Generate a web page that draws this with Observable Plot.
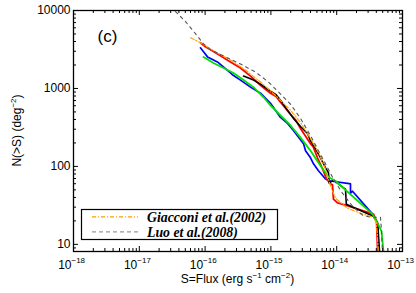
<!DOCTYPE html>
<html><head><meta charset="utf-8">
<script src="https://cdn.jsdelivr.net/npm/d3@7"></script>
<script src="https://cdn.jsdelivr.net/npm/@observablehq/plot@0.6"></script>
<style>
html,body{margin:0;padding:0;background:#fff;}
#wrap{position:relative;width:416px;height:293px;}
</style></head><body><div id="wrap"></div>
<script>
// ---- data ----
const luoFlux = [3.55e-17, 5.04e-17, 7.14e-17, 9.46e-17, 1.21e-16, 2.04e-16, 3.45e-16, 5.83e-16, 9.2e-16, 1.31e-15, 1.99e-15, 2.82e-15, 4.0e-15, 5.28e-15, 6.76e-15, 8.93e-15, 1.22e-14, 1.74e-14, 2.47e-14, 3.27e-14, 4.63e-14, 4.8e-14, 4.97e-14];
const luoN    = [9700, 7210, 5040, 3740, 3130, 2540, 2060, 1625, 1208, 896, 627, 413, 249, 159, 108, 69, 45.5, 30.9, 23.7, 22.3, 22.3, 14.7, 7.6];

const giaFlux = [6.0e-17, 8.5e-17, 1.44e-16, 2.43e-16, 4.11e-16, 6.95e-16, 1.17e-15, 1.99e-15, 2.82e-15, 4.0e-15, 5.28e-15, 6.76e-15, 8.05e-15, 9.6e-15, 1.46e-14, 2.3e-14, 3.62e-14, 4.03e-14, 4.32e-14];
const giaN    = [4480, 3850, 2950, 2320, 1725, 1208, 818, 524, 366, 228, 150, 93, 56, 39, 29, 25, 22.3, 18.6, 7.6];

const redFlux = [8.5e-17, 1.01e-16, 1.21e-16, 1.71e-16, 2.2e-16, 2.43e-16, 3.45e-16, 4.9e-16, 6.95e-16, 9.86e-16, 1.2e-15, 1.40e-15, 1.99e-15, 2.4e-15, 2.82e-15, 4.0e-15, 4.4e-15, 5.1e-15, 6.1e-15, 7.0e-15, 8.05e-15, 8.63e-15, 8.93e-15, 1.03e-14, 1.36e-14, 3.62e-14, 4.03e-14, 4.2e-14];
const redN    = [3850, 3420, 3130, 2620, 2300, 2190, 1830, 1440, 1100, 869, 790, 665, 466, 390, 306, 196, 178, 129, 93, 69, 60, 58, 38, 34, 31.8, 24.4, 19.8, 7.6];

const blackFlux = [3.84e-16, 5.44e-16, 6.95e-16, 9.86e-16, 1.2e-15, 1.40e-15, 1.79e-15, 2.2e-15, 2.82e-15, 3.6e-15, 4.0e-15, 4.76e-15, 5.68e-15, 6.76e-15, 7.5e-15, 7.7e-15, 8.93e-15, 1.27e-14, 1.36e-14, 1.4e-14, 3.62e-14, 4.2e-14, 4.5e-14];
const blackN    = [1440, 1280, 1137, 923, 830, 707, 524, 413, 325, 264, 214, 169, 129, 96, 83, 61, 67, 53, 51, 32.8, 22.9, 18.6, 7.6];

const blueFlux = [8.5e-17, 9.46e-17, 1.09e-16, 1.54e-16, 2.43e-16, 2.6e-16, 3.45e-16, 4.9e-16, 6.95e-16, 9.86e-16, 1.40e-15, 1.79e-15, 2.2e-15, 3.13e-15, 3.36e-15, 4.0e-15, 4.44e-15, 5.28e-15, 6.76e-15, 8.05e-15, 1.55e-14, 1.62e-14, 1.62e-14, 1.74e-14, 3.62e-14, 4.2e-14, 4.32e-14];
const blueN    = [3320, 2950, 2540, 2190, 1580, 1500, 1280, 1040, 869, 646, 425, 356, 289, 196, 159, 129, 108, 88, 69, 65, 60, 59.6, 45.5, 48, 23.7, 18.6, 7.6];

const greenFlux = [9.46e-17, 1.34e-16, 1.91e-16, 2.7e-16, 3.84e-16, 5.44e-16, 7.73e-16, 9.86e-16, 1.40e-15, 1.99e-15, 2.82e-15, 4.0e-15, 5.68e-15, 7.5e-15, 9.6e-15, 3.5e-14, 4.2e-14, 4.8e-14, 5.14e-14];
const greenN    = [2540, 2120, 1830, 1580, 1280, 1040, 771, 608, 452, 335, 234, 159, 102, 73, 65, 24.4, 18.6, 14.7, 8.1];

const xMajor = [1e-18, 1e-17, 1e-16, 1e-15, 1e-14, 1e-13];
const xExpLabels = ["\u221218", "\u221217", "\u221216", "\u221215", "\u221214", "\u221213"];
const yMajor = [10, 100, 1000, 10000];
const minorMult = [2, 3, 4, 5, 6, 7, 8, 9];
const legendNames = ["Giacconi et al.(2002)", "Luo et al.(2008)"];

// ---- layout ----
const W = 416, H = 293, mL = 73, mR = 14, mT = 10, mB = 42;
const fW = W - mL - mR, fH = H - mT - mB;
const xDomain = [1e-18, 1e-13], yDomain = [8.1, 10000];

const xMinor = xMajor.slice(0, -1).flatMap(d => minorMult.map(m => m * d));
const yMinor = [9, ...yMajor.slice(0, -1).flatMap(d => minorMult.map(m => m * d))];

const mk = (fx, ny) => fx.map((f, i) => ({flux: f, n: ny[i]}));
const lineOpts = {x: "flux", y: "n", clip: true, strokeLinejoin: "round"};

const majT = 5, minT = 3;

const plot = Plot.plot({
  width: W, height: H,
  marginLeft: mL, marginRight: mR, marginTop: mT, marginBottom: mB,
  style: {fontFamily: "'Liberation Sans', Arial, sans-serif", fontSize: "12px", background: "white", color: "black"},
  x: {type: "log", domain: xDomain, axis: null},
  y: {type: "log", domain: yDomain, axis: null},
  marks: [
    Plot.line(mk(blueFlux, blueN), {...lineOpts, stroke: "#0000ff", strokeWidth: 1.7}),
    Plot.line(mk(redFlux, redN), {...lineOpts, stroke: "#ff0000", strokeWidth: 1.8}),
    Plot.line(mk(blackFlux, blackN), {...lineOpts, stroke: "black", strokeWidth: 1.6}),
    Plot.line(mk(greenFlux, greenN), {...lineOpts, stroke: "#00e000", strokeWidth: 1.8}),
    Plot.line(mk(giaFlux, giaN), {...lineOpts, stroke: "#ffa500", strokeWidth: 1.2, strokeDasharray: "4,2,1,2"}),
    Plot.line(mk(luoFlux, luoN), {...lineOpts, stroke: "#555", strokeWidth: 1.1, strokeDasharray: "3,4"}),
    // ticks (inward, all four sides)
    Plot.ruleX(xMajor, {insetTop: fH - majT, stroke: "black"}),
    Plot.ruleX(xMajor, {insetBottom: fH - majT, stroke: "black"}),
    Plot.ruleX(xMinor, {insetTop: fH - minT, stroke: "black"}),
    Plot.ruleX(xMinor, {insetBottom: fH - minT, stroke: "black"}),
    Plot.ruleY(yMajor, {insetRight: fW - majT, stroke: "black"}),
    Plot.ruleY(yMajor, {insetLeft: fW - majT, stroke: "black"}),
    Plot.ruleY(yMinor, {insetRight: fW - minT, stroke: "black"}),
    Plot.ruleY(yMinor, {insetLeft: fW - minT, stroke: "black"}),
    Plot.frame({stroke: "black", strokeWidth: 1.3}),
    // y tick labels
    Plot.axisY(yMajor, {tickSize: 0, tickPadding: 3, tickFormat: d => String(d), fontSize: 12, label: null}),
    // x tick labels: 10^exp
    Plot.text(xMajor, {x: d => d, text: () => "10", frameAnchor: "bottom", textAnchor: "end", lineAnchor: "bottom", dx: -2, dy: 17, fontSize: 12}),
    Plot.text(xMajor, {x: d => d, text: (d, i) => xExpLabels[i], frameAnchor: "bottom", textAnchor: "start", lineAnchor: "bottom", dx: -2, dy: 11, fontSize: 8}),
    Plot.text(["(c)"], {frameAnchor: "top-left", text: d => d, dx: 24, dy: 26, lineAnchor: "middle", textAnchor: "start", fontSize: 17})
  ]
});

const svg = d3.select(plot);
// x axis label
const xl = svg.append("text").attr("x", mL + fW / 2).attr("y", 283).attr("text-anchor", "middle")
  .attr("font-size", 12).attr("fill", "black");
xl.append("tspan").text("S=Flux (erg s");
xl.append("tspan").attr("font-size", 8).attr("dy", -5).text("\u22121");
xl.append("tspan").attr("dy", 5).text(" cm");
xl.append("tspan").attr("font-size", 8).attr("dy", -5).text("\u22122");
xl.append("tspan").attr("dy", 5).text(")");

// y axis label
const yl = svg.append("text").attr("transform", `translate(21,${mT + fH / 2}) rotate(-90)`)
  .attr("text-anchor", "middle").attr("font-size", 12).attr("fill", "black");
yl.append("tspan").text("N(>S) (deg");
yl.append("tspan").attr("font-size", 8).attr("dy", -5).text("\u22122");
yl.append("tspan").attr("dy", 5).text(")");

// legend box
const lg = svg.append("g");
lg.append("rect").attr("x", 81.5).attr("y", 209.5).attr("width", 196).attr("height", 30)
  .attr("fill", "white").attr("stroke", "black").attr("stroke-width", 1.2);
const legStyles = [
  {stroke: "#ff9f00", dash: "4,2,1,2", y: 216.8},
  {stroke: "#999999", dash: "4,3", y: 231.8}
];
legStyles.forEach((s, i) => {
  lg.append("line").attr("x1", 92).attr("x2", 138).attr("y1", s.y).attr("y2", s.y)
    .style("stroke", s.stroke).style("stroke-width", "1.3px").style("stroke-dasharray", s.dash);
  lg.append("text").attr("x", 147).attr("y", s.y).attr("dy", "0.35em")
    .attr("text-anchor", "start")
    .attr("font-family", "'Liberation Serif', 'Times New Roman', serif")
    .attr("font-weight", "bold").attr("font-style", "italic").attr("font-size", 13.8)
    .attr("fill", "black").text(legendNames[i]);
});

document.getElementById("wrap").appendChild(plot);
</script></body></html>
